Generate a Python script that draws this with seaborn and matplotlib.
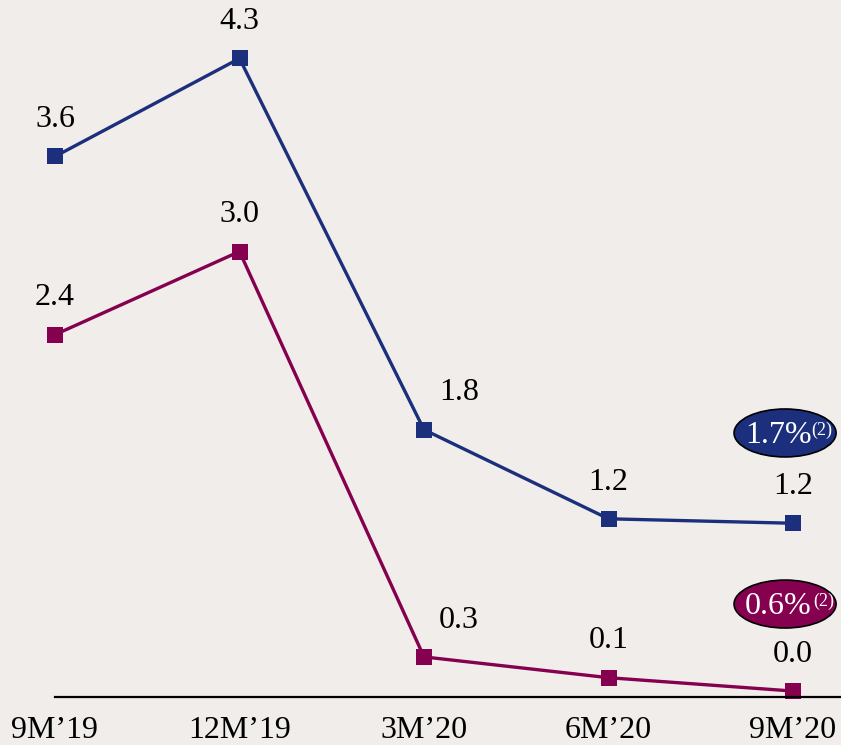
import matplotlib
matplotlib.use("Agg")
import matplotlib.pyplot as plt
from matplotlib.patches import Ellipse
import pandas as pd
import seaborn as sns

periods = ["9M\u201919", "12M\u201919", "3M\u201920", "6M\u201920", "9M\u201920"]
series_a = [3.64, 4.3, 1.8, 1.2, 1.17]
series_b = [2.44, 3.0, 0.27, 0.13, 0.04]
badge_a = "1.7%"
badge_b = "0.6%"
badge_note = "(2)"

navy = "#1b2f7c"
plum = "#85004e"
bg = "#f0edea"

sns.set_theme(style="white")
plt.rcParams["font.family"] = ["Liberation Serif", "DejaVu Serif"]

df = pd.DataFrame({
    "pos": list(range(len(periods))) * 2,
    "value": series_a + series_b,
    "series": ["a"] * len(periods) + ["b"] * len(periods),
})

fig = plt.figure(figsize=(8.41, 7.45), dpi=100, facecolor=bg)
ax = fig.add_axes([55 / 841, 48 / 745, 1 - 55 / 841, 697 / 745])
ax.set_facecolor(bg)

sns.lineplot(data=df, x="pos", y="value", hue="series",
             palette={"a": navy, "b": plum}, marker="s", markersize=12,
             markeredgewidth=0, linewidth=2.4, legend=False, ax=ax)
for ln in ax.lines:
    ln.set_clip_on(False)

ax.set_xlim(0, 786 / 184.5)
ax.set_ylim(0, 697 / 148.5)

# value labels above each point; 3M'20 labels sit to the right
for vals in (series_a, series_b):
    for i, v in enumerate(vals):
        dx, dy = (25, 16) if i == 2 else (0, 16)
        ax.annotate(f"{v:.1f}", (i, v), xytext=(dx, dy), textcoords="offset points",
                    ha="center", va="bottom", fontsize=23, color="black")

# end-of-period badges
for yc, col, txt, nx in ((1.778, navy, badge_a, 4.098), (0.626, plum, badge_b, 4.110)):
    ax.add_patch(Ellipse((3.957, yc), 0.553, 0.323, facecolor=col,
                         edgecolor="black", linewidth=1.2, clip_on=False, zorder=5))
    ax.text(3.740, yc - 0.068, txt, ha="left", va="baseline", fontsize=23,
            color="white", zorder=6, clip_on=False)
    ax.text(nx, yc - 0.015, badge_note, ha="left", va="baseline", fontsize=13,
            color="white", zorder=6, clip_on=False)

ax.set_xticks(range(len(periods)))
ax.set_xticklabels(periods, fontsize=23, color="black")
ax.tick_params(axis="x", length=0, pad=14)
ax.set_yticks([])
ax.set_xlabel("")
ax.set_ylabel("")
for s in ("left", "right", "top"):
    ax.spines[s].set_visible(False)
ax.spines["bottom"].set_color("black")
ax.spines["bottom"].set_linewidth(1.6)

fig.savefig("out.png", dpi=100, facecolor=bg)
